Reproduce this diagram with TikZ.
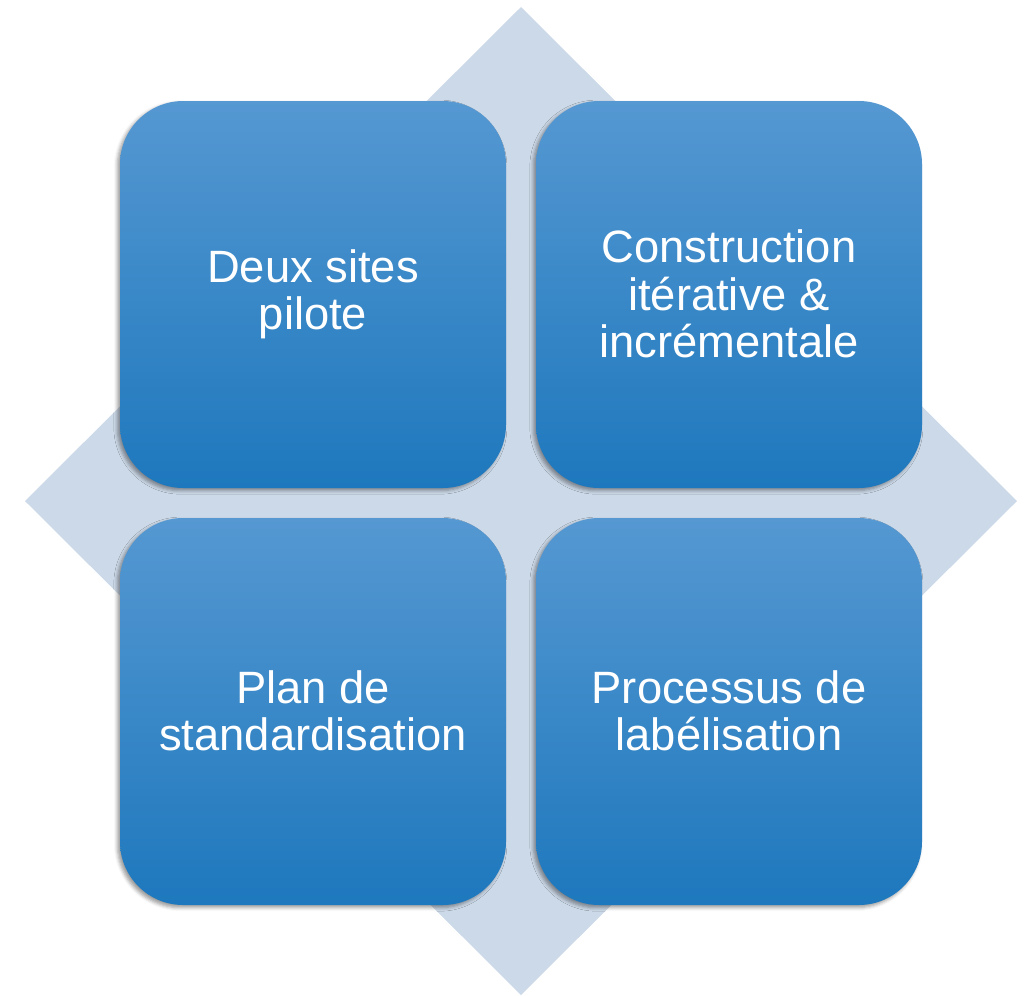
\documentclass[tikz,border=0pt]{standalone}
\usepackage{fontspec}
\setmainfont{Liberation Sans}
\usetikzlibrary{shadows.blur}
\definecolor{diam}{HTML}{CCD9E8}
\definecolor{btop}{HTML}{5598D2}
\definecolor{bbot}{HTML}{1E78BD}
\tikzset{
  quad/.style={rounded corners=36pt, top color=btop, bottom color=bbot, draw=none,
    blur shadow={shadow xshift=-1.5pt, shadow yshift=-1.5pt, shadow blur radius=2pt, shadow opacity=40}},
  lbl/.style={text=white, align=center, font=\fontsize{25.8}{27}\selectfont}
}
\begin{document}
\begin{tikzpicture}[x=0.02cm,y=-0.02cm]
\useasboundingbox (0,0) rectangle (1025,995);
\fill[diam] (521,7) coordinate (dt) -- (1017,501) coordinate (dr) -- (521,995) coordinate (db) -- (25,501) coordinate (dl) -- cycle;
\path[quad] (120,101) rectangle (506,488);
\path[quad] (536,101) rectangle (922,488);
\path[quad] (120,518) rectangle (506,905);
\path[quad] (536,518) rectangle (922,905);
\node[lbl] (tl) at (313,294) {Deux sites\\pilote};
\node[lbl] (tr) at (729,294) {Construction\\itérative \&\\incrémentale};
\node[lbl] (bl) at (313,711) {Plan de\\standardisation};
\node[lbl] (br) at (729,711) {Processus de\\labélisation};
\end{tikzpicture}
\end{document}
